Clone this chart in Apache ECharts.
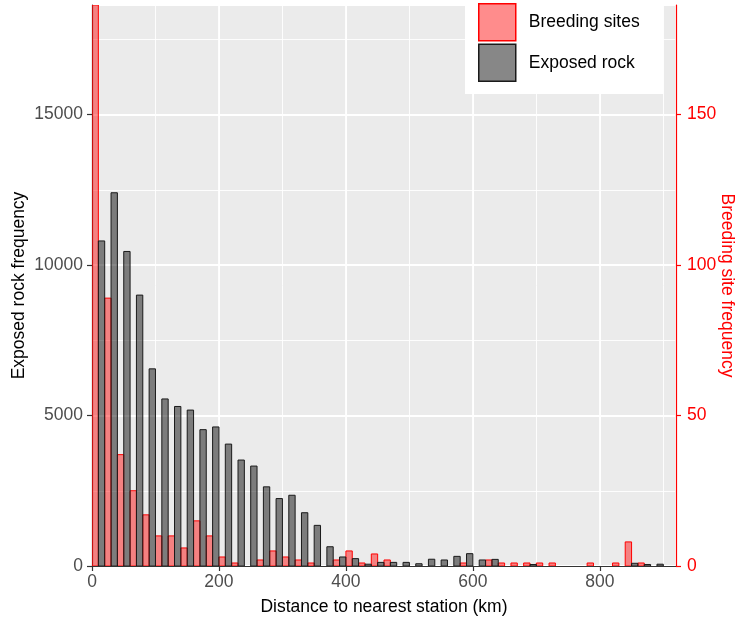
<!DOCTYPE html>
<html>
<head>
<meta charset="utf-8">
<script src="https://cdn.jsdelivr.net/npm/echarts@6/dist/echarts.min.js"></script>
<style>
html,body{margin:0;padding:0;background:#fff;}
#chart{width:749px;height:619px;}
</style>
</head>
<body>
<div id="chart"></div>
<script>
// Bin start (km), bins are 20 km wide
const binStart = [0,20,40,60,80,100,120,140,160,180,200,220,240,260,280,300,320,340,360,380,400,420,440,460,480,500,520,540,560,580,600,620,640,660,680,700,720,740,760,780,800,820,840,860,880];
// Breeding site counts (right axis); first bin exceeds the plotted range
const breedingSites = [300,89,37,25,17,10,10,6,15,10,3,1,0,2,5,3,2,1,0,2,5,1,4,2,0,0,0,0,0,1,0,2,1,1,1,1,1,0,0,1,0,1,8,1,0];
// Exposed rock counts (left axis)
const exposedRock = [10800,12400,10450,9000,6550,5550,5300,5180,4530,4620,4050,3520,3320,2630,2240,2350,1770,1350,640,300,245,60,120,120,120,75,225,200,320,410,200,220,0,0,50,0,0,0,0,0,0,0,90,50,60];
const xTicks = [0,200,400,600,800];
const leftTicks = [0,5000,10000,15000];
const rightTicks = [0,50,100,150];

const FONT = "'Liberation Sans', Arial, sans-serif";
const chart = echarts.init(document.getElementById('chart'), null, {renderer:'canvas'});

function makeRender(offset, fill, stroke){
  return function(params, api){
    const x0 = api.value(0) + offset;
    const v = api.value(1);
    if (!(v > 0)) return;
    const p0 = api.coord([x0, 0]);
    const p1 = api.coord([x0 + 10, v]);
    const cs = params.coordSys;
    const top = Math.max(p1[1], cs.y);
    return {
      type:'rect',
      shape:{x:p0[0], y:top, width:p1[0]-p0[0], height:p0[1]-top},
      style:{fill:fill, stroke:stroke, lineWidth:1}
    };
  };
}

const redFill = 'rgba(255,0,0,0.45)';
const grayFill = 'rgba(0,0,0,0.47)';

chart.setOption({
  animation:false,
  textStyle:{fontFamily:FONT},
  grid:{left:92,right:73,top:5,bottom:53,show:true,backgroundColor:'#EBEBEB',borderWidth:0,containLabel:false,outerBoundsMode:'none'},
  legend:{
    orient:'vertical', left:465, top:-9,
    backgroundColor:'#fff',
    padding:[12,24,12,13],
    itemWidth:37, itemHeight:37, itemGap:2,
    selectedMode:false,
    textStyle:{fontFamily:FONT,fontSize:17.5,color:'#000',padding:[0,0,0,8]},
    data:[
      {name:'Breeding sites',icon:'rect',itemStyle:{color:redFill,borderColor:'#ff0000',borderWidth:1.5}},
      {name:'Exposed rock',icon:'rect',itemStyle:{color:grayFill,borderColor:'#1a1a1a',borderWidth:1.5}}
    ]
  },
  xAxis:[
    {
      type:'value', min:0, max:920, interval:200,
      name:'Distance to nearest station (km)', nameLocation:'middle', nameGap:32, nameMoveOverlap:false,
      nameTextStyle:{fontFamily:FONT,fontSize:17.5,color:'#000'},
      axisLine:{show:true,onZero:false,lineStyle:{color:'#333',width:1.2}},
      axisTick:{show:true,length:5,lineStyle:{color:'#333',width:1.2}},
      axisLabel:{show:true,margin:7,fontFamily:FONT,fontSize:17.5,color:'#4D4D4D',showMaxLabel:false,
        formatter:function(v){return xTicks.indexOf(v)>=0?String(v):'';}},
      splitLine:{show:true,lineStyle:{color:'#fff',width:1.8}}
    },
    {
      type:'value', min:0, max:920, interval:100, position:'bottom',
      axisLine:{show:false}, axisTick:{show:false}, axisLabel:{show:false},
      splitLine:{show:true,lineStyle:{color:'#fff',width:0.9}}
    }
  ],
  yAxis:[
    {
      type:'value', min:0, max:18638, interval:5000, position:'left',
      name:'Exposed rock frequency', nameLocation:'middle', nameGap:64, nameRotate:90, nameMoveOverlap:false,
      nameTextStyle:{fontFamily:FONT,fontSize:17.5,color:'#000'},
      axisLine:{show:true,onZero:false,lineStyle:{color:'#333',width:1.2}},
      axisTick:{show:true,length:5,lineStyle:{color:'#333',width:1.2}},
      axisLabel:{show:true,margin:9,fontFamily:FONT,fontSize:17.5,color:'#4D4D4D',showMaxLabel:false,
        formatter:function(v){return leftTicks.indexOf(v)>=0?String(v):'';}},
      splitLine:{show:true,lineStyle:{color:'#fff',width:1.8}}
    },
    {
      type:'value', min:0, max:186.38, interval:50, position:'right',
      name:'Breeding site frequency', nameLocation:'middle', nameGap:42, nameRotate:-90, nameMoveOverlap:false,
      nameTextStyle:{fontFamily:FONT,fontSize:17.5,color:'#ff0000'},
      axisLine:{show:true,onZero:false,lineStyle:{color:'#ff0000',width:1.2}},
      axisTick:{show:true,length:5,lineStyle:{color:'#ff0000',width:1.2}},
      axisLabel:{show:true,margin:11,fontFamily:FONT,fontSize:17.5,color:'#ff0000',showMaxLabel:false,
        formatter:function(v){return rightTicks.indexOf(v)>=0?String(v):'';}},
      splitLine:{show:false}
    },
    {
      type:'value', min:0, max:18638, interval:2500, position:'left',
      axisLine:{show:false}, axisTick:{show:false}, axisLabel:{show:false},
      splitLine:{show:true,lineStyle:{color:'#fff',width:0.9}}
    }
  ],
  series:[
    {
      name:'Breeding sites', type:'custom', xAxisIndex:0, yAxisIndex:1,
      clip:true,
      itemStyle:{color:redFill},
      renderItem:makeRender(0, redFill, '#ff0000'),
      encode:{x:0,y:1},
      data:binStart.map(function(b,i){return [b, breedingSites[i]];})
    },
    {
      name:'Exposed rock', type:'custom', xAxisIndex:0, yAxisIndex:0,
      clip:true,
      itemStyle:{color:grayFill},
      renderItem:makeRender(10, grayFill, '#1a1a1a'),
      encode:{x:0,y:1},
      data:binStart.map(function(b,i){return [b, exposedRock[i]];})
    }
  ]
});
</script>
</body>
</html>
